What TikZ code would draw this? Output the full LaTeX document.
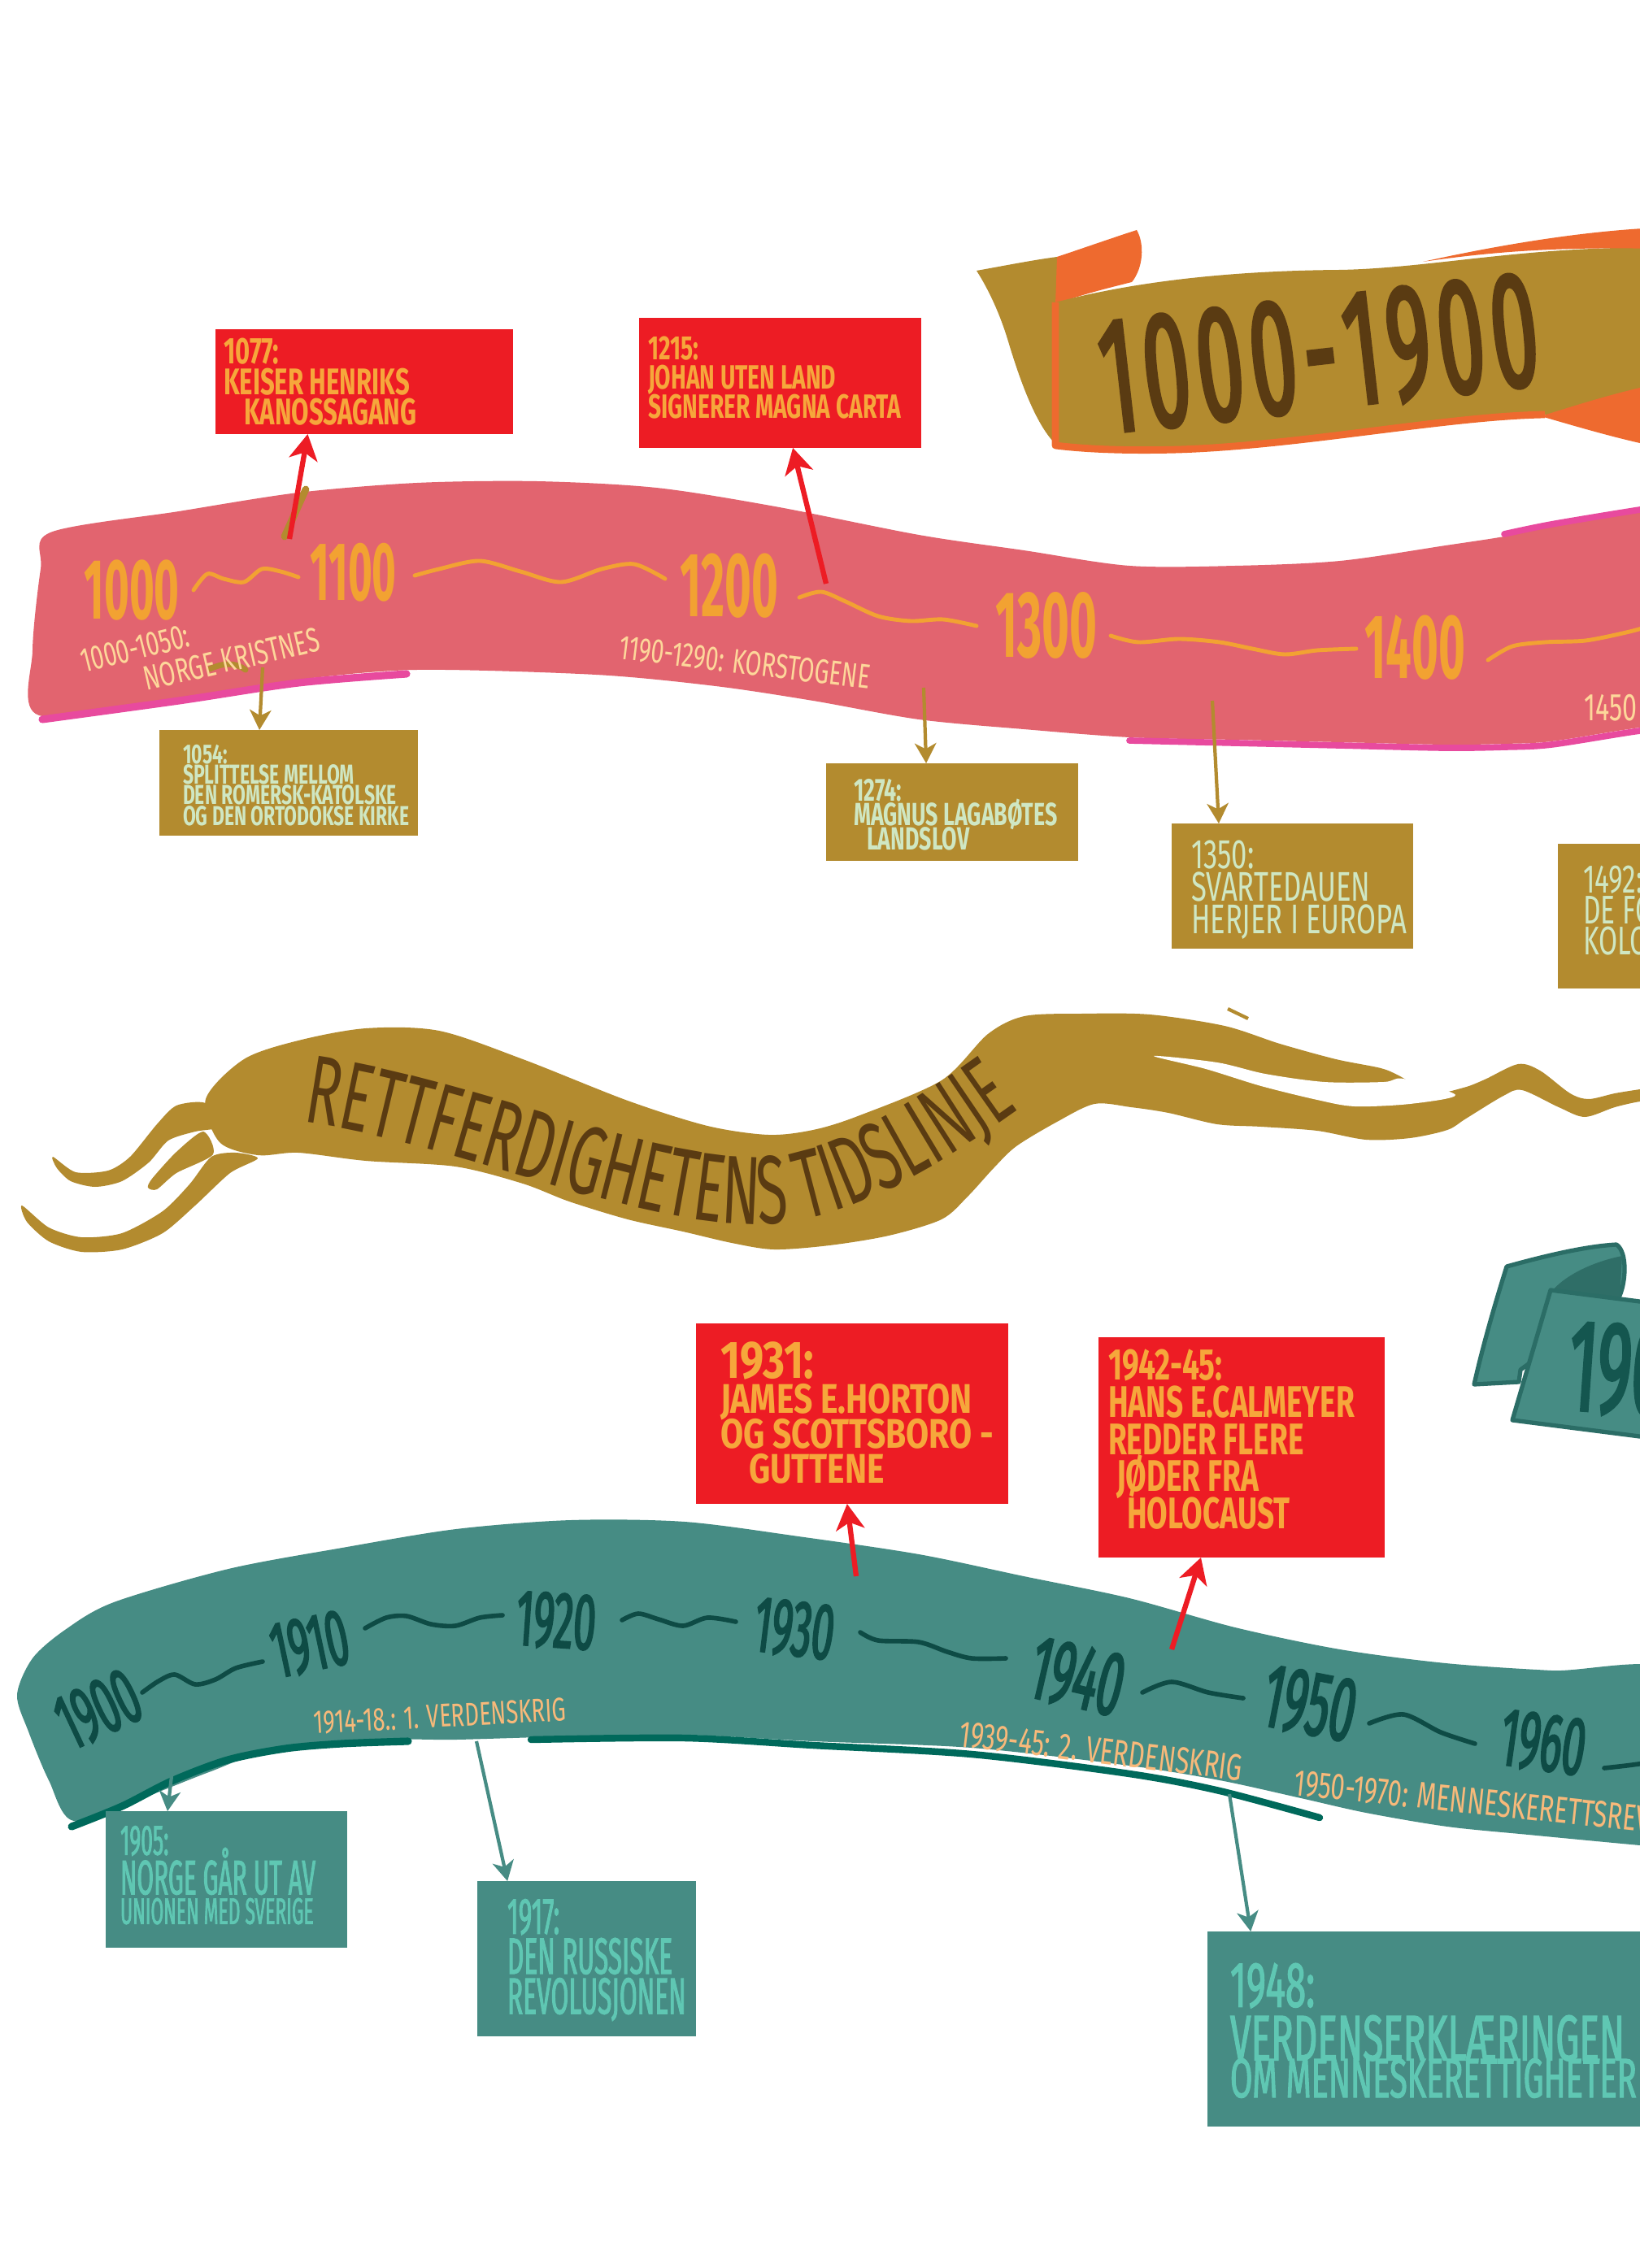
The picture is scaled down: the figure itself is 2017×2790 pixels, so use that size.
\documentclass[tikz,border=0pt]{standalone}
\usepackage{fontspec}
\setmainfont{Fira Sans}
\newfontfamily\hA[FakeStretch=0.68]{Fira Sans}
\newfontfamily\hB[FakeStretch=0.80]{Fira Sans}
\newfontfamily\hC[FakeStretch=0.50]{Fira Sans}
\newfontfamily\hD[FakeStretch=0.58]{Fira Sans}
\newfontfamily\hE[FakeStretch=0.50,FakeBold=2]{Fira Sans}
\newfontfamily\hG[FakeStretch=0.50,FakeBold=1.5]{Fira Sans}
\newfontfamily\hH[FakeStretch=0.58,FakeBold=1.5]{Fira Sans}
\usetikzlibrary{arrows.meta,calc,decorations.text}
\newcommand\myfs[2]{\fontsize{#1}{#2}\selectfont\lineskiplimit=-50pt\relax}
\definecolor{pinkband}{HTML}{E2646F}
\definecolor{bandmag}{HTML}{E84A9E}
\definecolor{yearorange}{HTML}{F2A232}
\definecolor{peach}{HTML}{FDD79A}
\definecolor{peachb}{HTML}{F8B97A}
\definecolor{gold}{HTML}{B38B2F}
\definecolor{mint}{HTML}{CFE7C3}
\definecolor{boxred}{HTML}{ED1C24}
\definecolor{redtext}{HTML}{F6A73B}
\definecolor{browntext}{HTML}{5A3B12}
\definecolor{ribbonorange}{HTML}{EE6A2F}
\definecolor{tealband}{HTML}{468C84}
\definecolor{tealstrip}{HTML}{00695B}
\definecolor{tealyear}{HTML}{0E4B45}
\definecolor{tealtext}{HTML}{5FC7B3}
\definecolor{tealedge}{HTML}{2B6D66}
\definecolor{tealfold}{HTML}{2F6E67}
\definecolor{tealtitle}{HTML}{14564F}
\begin{document}
\begin{tikzpicture}[x=0.1mm,y=-0.1mm,
  box/.style={inner sep=0pt, outer sep=0pt, anchor=north west, draw=none},
  txt/.style={inner sep=0pt, outer sep=0pt, anchor=north west, align=left},
  pyear/.style={inner sep=0pt, anchor=south west, text=yearorange},
  tyear/.style={inner sep=0pt, anchor=center, text=tealyear, font=\hE\myfs{28}{28}},
  pwave/.style={draw=yearorange, line width=1.4pt, line cap=round, line join=round},
  twave/.style={draw=tealyear, line width=1.6pt, line cap=round, line join=round},
  redarrow/.style={draw=boxred, line width=1.8pt, -{Stealth[length=9pt,width=10pt,inset=2.5pt]}},
  goldarrow/.style={draw=gold, line width=1.2pt, -{Stealth[length=7pt,width=7.5pt,inset=2pt]}},
  tealarrow/.style={draw=tealband, line width=1.2pt, -{Stealth[length=7pt,width=7.5pt,inset=2pt]}},
  sublab/.style={inner sep=0pt, anchor=base west}
]
\useasboundingbox (0,0) rectangle (2017,2790);
\clip (0,0) rectangle (2017,2790);
\fill[white] (0,0) rectangle (2017,2790);

% ---------- ribbon 1000-1900 ----------
\fill[gold] (1201,333) .. controls (1240,326) and (1270,320) .. (1300,316) -- (1300,548)
  .. controls (1275,525) and (1255,470) .. (1240,420) .. controls (1228,380) and (1212,350) .. cycle;
\fill[ribbonorange] (1298,375) -- (1300,316) .. controls (1330,306) and (1370,292) .. (1398,283)
  .. controls (1408,300) and (1406,330) .. (1392,347) .. controls (1360,355) and (1320,365) .. (1298,375) -- cycle;
\fill[gold] (1298,372) .. controls (1400,345) and (1520,333) .. (1648,332) .. controls (1760,330) and (1880,302) .. (2040,305)
  -- (2040,520) .. controls (1980,512) and (1930,508) .. (1900,510) .. controls (1780,512) and (1600,548) .. (1450,553)
  .. controls (1380,555) and (1330,552) .. (1298,548) -- cycle;
\draw[ribbonorange, line width=2.5pt, line join=round] (1298,372) -- (1298,548) .. controls (1330,552) and (1380,555) .. (1450,553)
  .. controls (1600,548) and (1780,512) .. (1900,510);
\fill[ribbonorange] (1895,512) .. controls (1940,498) and (1990,482) .. (2040,472) -- (2040,550) .. controls (1990,540) and (1940,525) .. (1895,512) -- cycle;
\fill[ribbonorange] (1750,322) .. controls (1850,300) and (1950,284) .. (2040,280) -- (2040,306) .. controls (1900,303) and (1820,312) .. (1750,322) -- cycle;
\node[inner sep=0pt, rotate=6.5, text=browntext, font=\hE\myfs{58}{58}] (title1) at (1622,436) {1\kern2.6pt 0\kern2.6pt 0\kern2.6pt 0\kern2.6pt -\kern2.6pt 1\kern2.6pt 9\kern2.6pt 0\kern2.6pt 0};

% ---------- pink band ----------
\fill[pinkband] plot[smooth cycle, tension=0.5] coordinates {(50,700) (62,655) (220,629) (367,606) (513,594) (660,592) (807,600) (953,623) (1130,658) (1259,677) (1389,696) (1519,696) (1648,690) (1778,671) (1850,660) (1908,648) (2017,630) (2070,622) (2070,893) (2017,895) (1908,912) (1850,915) (1778,916) (1648,913) (1519,910) (1389,907) (1259,897) (1130,885) (1000,862) (880,844) (733,830) (513,824) (367,836) (220,858) (48,880) (40,800)};
\draw[bandmag, line width=2.6pt, line cap=round] plot[smooth, tension=0.5] coordinates {(52,885) (220,862) (367,840) (500,829)};
\draw[bandmag, line width=2.2pt, line cap=round] plot[smooth, tension=0.5] coordinates {(1389,911) (1519,914) (1648,917) (1778,920) (1850,919) (1908,916) (2017,899) (2060,897)};
\draw[bandmag, line width=2.2pt, line cap=round] plot[smooth, tension=0.5] coordinates {(1850,657) (1908,645) (2017,627) (2060,622)};

% ---------- boxes top ----------
\node[box, fill=boxred, minimum width=36.6mm, minimum height=12.9mm] (b1077) at (265,405) {};
\node[box, fill=boxred, minimum width=34.7mm, minimum height=16.0mm] (b1215) at (786,391) {};
\node[box, fill=gold, minimum width=31.8mm, minimum height=13.0mm] (b1054) at (196,898) {};
\node[box, fill=gold, minimum width=31.0mm, minimum height=12.0mm] (b1274) at (1016,939) {};
\node[box, fill=gold, minimum width=29.7mm, minimum height=15.4mm] (b1350) at (1441,1013) {};
\node[box, fill=gold, minimum width=14.0mm, minimum height=17.8mm] (b1492) at (1916,1038) {};

\draw[gold, line width=2.5pt, line cap=round] (350,660) -- (376,602);
\draw[gold, line width=2pt, line cap=round] (258,823) .. controls (275,815) and (290,815) .. (302,824);

\coordinate (s1077) at (356,663);
\coordinate (s1215) at (1016,718);
\coordinate (s1054) at (323,821);
\coordinate (s1274) at (1136,846);
\coordinate (s1350) at (1491,862);
\draw[redarrow] (s1077) -- ($(b1077.south west)!0.31!(b1077.south east)$);
\draw[redarrow] (s1215) -- ($(b1215.south west)!0.545!(b1215.south east)$);
\draw[goldarrow] (s1054) -- ($(b1054.north west)!0.387!(b1054.north east)$);
\draw[goldarrow] (s1274) -- ($(b1274.north west)!0.397!(b1274.north east)$);
\draw[goldarrow] (s1350) -- ($(b1350.north west)!0.195!(b1350.north east)$);

\node[txt, text=redtext, font=\hA\bfseries\myfs{13}{10.7}] (t1077) at (275,416) {1077:\\KEISER HENRIKS\\\hspace*{2.5mm}KANOSSAGANG};
\node[txt, text=redtext, font=\hA\bfseries\myfs{11.8}{10.2}] (t1215) at (797,414) {1215:\\JOHAN UTEN LAND\\SIGNERER MAGNA CARTA};
\node[txt, text=mint, font=\hA\bfseries\myfs{9.6}{7.2}] (t1054) at (225,916) {1054:\\SPLITTELSE MELLOM\\DEN ROMERSK-KATOLSKE\\OG DEN ORTODOKSE KIRKE};
\node[txt, text=mint, font=\hA\bfseries\myfs{11.2}{8.5}] (t1274) at (1050,958) {1274:\\MAGNUS LAGABØTES\\\hspace*{1.6mm}LANDSLOV};
\node[txt, text=mint, font=\hA\myfs{14.5}{11.4}] (t1350) at (1465,1034) {1350:\\SVARTEDAUEN\\HERJER I EUROPA};
\node[txt, text=mint, font=\hA\myfs{14}{10.8}] (t1492) at (1947,1065) {1492:\\DE FØRSTE\\KOLONIENE};

% ---------- pink band years ----------
\draw[pwave] plot[smooth] coordinates {(238,726) (255,706) (275,712) (300,716) (322,700) (345,703) (367,710)};
\draw[pwave] plot[smooth] coordinates {(510,708) (540,700) (590,690) (640,703) (690,716) (740,700) (780,694) (818,712)};
\draw[pwave] plot[smooth] coordinates {(983,735) (1010,728) (1040,740) (1080,758) (1120,764) (1160,762) (1201,770)};
\draw[pwave] plot[smooth] coordinates {(1366,782) (1400,790) (1450,786) (1500,790) (1540,798) (1580,805) (1620,800) (1668,798)};
\draw[pwave] plot[smooth] coordinates {(1830,812) (1860,795) (1900,790) (1950,788) (2000,778) (2030,770)};
\node[pyear, font=\hC\bfseries\myfs{30}{30}] (y1000) at (103,764) {1000};
\node[pyear, font=\hC\bfseries\myfs{29}{29}] (y1100) at (381,741) {1100};
\node[pyear, font=\hC\bfseries\myfs{32}{32}] (y1200) at (836,761) {1200};
\node[pyear, font=\hC\bfseries\myfs{33}{33}] (y1300) at (1224,811) {1300};
\node[pyear, font=\hC\bfseries\myfs{32}{32}] (y1400) at (1678,837) {1400};

\node[sublab, rotate=14, text=peach, font=\hA\myfs{12}{12}] (l1000a) at (103,828) {1000-1050:};
\node[sublab, rotate=13, text=peach, font=\hA\myfs{12}{12}] (l1000b) at (180,850) {NORGE KRISTNES};
\node[sublab, rotate=-7, text=peach, font=\hA\myfs{12}{12}] (l1190) at (760,810) {1190-1290: KORSTOGENE};
\node[sublab, text=peach, font=\hA\myfs{13.5}{12}] (l1450) at (1948,886) {1450};

% ---------- banner ----------
\fill[gold] plot[smooth cycle, tension=0.5] coordinates {(253,1352) (300,1303) (367,1280) (450,1265) (540,1268) (643,1303) (772,1354) (870,1385) (945,1396) (1000,1390) (1055,1373) (1158,1329) (1215,1272) (1260,1250) (1330,1247) (1414,1248) (1506,1262) (1574,1284) (1643,1303) (1698,1314) (1722,1324) (1760,1345) (1800,1338) (1826,1328) (1867,1309) (1894,1317) (1931,1345) (1954,1352) (1986,1345) (2017,1340) (2045,1336) (2045,1353) (2017,1355) (1986,1362) (1949,1374) (1917,1362) (1872,1341) (1849,1348) (1803,1376) (1780,1390) (1734,1400) (1680,1402) (1620,1391) (1551,1386) (1497,1383) (1437,1369) (1391,1362) (1346,1358) (1300,1380) (1250,1410) (1222,1437) (1190,1472) (1158,1500) (1093,1520) (1020,1532) (952,1537) (900,1529) (840,1515) (772,1500) (700,1478) (643,1456) (560,1435) (450,1428) (367,1418) (317,1421) (270,1405)};
\fill[white] plot[smooth cycle, tension=0.5] coordinates {(1419,1299) (1497,1307) (1556,1321) (1629,1331) (1702,1331) (1726,1327) (1790,1347) (1734,1358) (1666,1361) (1620,1353) (1551,1336) (1483,1315)};
\fill[gold] plot[smooth cycle, tension=0.45] coordinates {(253,1357) (217,1360) (193,1383) (160,1423) (133,1440) (93,1442) (65,1423) (70,1437) (87,1453) (117,1460) (150,1453) (183,1430) (207,1403) (240,1392) (275,1385)};
\fill[gold] plot[smooth cycle, tension=0.45] coordinates {(250,1392) (217,1417) (187,1450) (182,1461) (193,1463) (217,1443) (262,1420)};
\fill[gold] plot[smooth cycle, tension=0.45] coordinates {(290,1418) (260,1423) (233,1457) (200,1490) (150,1517) (100,1522) (60,1510) (27,1483) (33,1503) (60,1527) (100,1540) (150,1537) (200,1517) (240,1483) (283,1443) (317,1425)};
\draw[gold, line width=1.2pt] (1510,1241) -- (1535,1253);
\path[decorate, decoration={text along path, text color=browntext,
  text={|\hD\myfs{34}{34}|RETTFERDIGHETENS TIDSLINJE}}]
  (372,1380) .. controls (560,1405) and (790,1515) .. (950,1505) .. controls (1060,1498) and (1180,1420) .. (1300,1330);

% ---------- teal ribbon ----------
\filldraw[fill=tealband, draw=tealedge, line width=1.5pt, line join=round] (1853,1558) .. controls (1900,1545) and (1950,1533) .. (1988,1531) .. controls (2002,1540) and (2000,1580) .. (1990,1598) -- (1870,1685) -- (1868,1700) -- (1813,1703) .. controls (1825,1650) and (1840,1600) .. (1853,1558) -- cycle;
\fill[tealfold] (1907,1590) .. controls (1925,1568) and (1960,1552) .. (1995,1545) -- (1992,1600) -- cycle;
\filldraw[fill=tealband, draw=tealedge, line width=1.5pt, line join=round] (1907,1587) -- (2040,1604) -- (2040,1770) -- (1860,1747) -- cycle;
\node[inner sep=0pt, anchor=south west, rotate=-4, text=tealtitle, font=\hE\myfs{46}{46}] (title2) at (1925,1738) {1900-2000};

% ---------- red boxes bottom ----------
\node[box, fill=boxred, minimum width=38.4mm, minimum height=22.2mm] (b1931) at (856,1628) {};
\node[box, fill=boxred, minimum width=35.2mm, minimum height=27.1mm] (b1942) at (1351,1645) {};
\node[txt, text=redtext, font=\hB\bfseries\myfs{14.5}{12.2}] (t1931) at (886,1651) {{\myfs{18.5}{12.2}1931:}\\JAMES E.HORTON\\OG SCOTTSBORO -\\\hspace*{3.5mm}GUTTENE};
\node[txt, text=redtext, font=\hA\bfseries\myfs{15.5}{13}] (t1942) at (1363,1660) {1942-45:\\HANS E.CALMEYER\\REDDER FLERE\\\hspace*{1mm}JØDER FRA\\\hspace*{2.3mm}HOLOCAUST};

% ---------- teal band ----------
\fill[tealband] plot[smooth cycle, tension=0.5] coordinates {(21,2085) (40,2040) (80,2005) (140,1971) (281,1930) (421,1904) (561,1881) (702,1870) (842,1872) (982,1890) (1130,1912) (1259,1939) (1389,1966) (1519,2002) (1648,2029) (1778,2046) (1908,2055) (2070,2062) (2070,2274) (2017,2270) (1880,2257) (1780,2247) (1680,2230) (1600,2212) (1500,2190) (1389,2172) (1195,2150) (1000,2142) (842,2134) (700,2136) (561,2140) (491,2140) (351,2147) (257,2180) (180,2210) (91,2240) (60,2190) (35,2130)};
\draw[tealstrip, line width=2.6pt, line cap=round] plot[smooth, tension=0.5] coordinates {(88,2247) (150,2222) (211,2191) (280,2165) (351,2151) (420,2145) (502,2142)};
\draw[tealstrip, line width=2.4pt, line cap=round] plot[smooth, tension=0.5] coordinates {(653,2140) (842,2138) (1000,2147) (1195,2158) (1389,2182) (1500,2203) (1623,2236)};

\node[box, fill=tealband, minimum width=29.7mm, minimum height=16.8mm] (b1905) at (130,2228) {};
\node[box, fill=tealband, minimum width=26.9mm, minimum height=19.1mm] (b1917) at (587,2314) {};
\node[box, fill=tealband, minimum width=56.0mm, minimum height=24.0mm] (b1948) at (1485,2376) {};

\coordinate (s1931) at (1053,1939);
\coordinate (s1942) at (1441,2029);
\coordinate (s1905) at (211,2185);
\coordinate (s1917) at (586,2142);
\coordinate (s1948) at (1512,2207);
\draw[redarrow] (s1931) -- ($(b1931.south west)!0.484!(b1931.south east)$);
\draw[redarrow] (s1942) -- ($(b1942.south west)!0.358!(b1942.south east)$);
\draw[tealarrow] (s1905) -- ($(b1905.north west)!0.256!(b1905.north east)$);
\draw[tealarrow] (s1917) -- ($(b1917.north west)!0.138!(b1917.north east)$);
\draw[tealarrow] (s1948) -- ($(b1948.north west)!0.095!(b1948.north east)$);

\node[txt, text=tealtext, font=\hG\myfs{15}{13.8}] (t1905) at (148,2246) {1905:\\{\myfs{17}{13.8}NORGE GÅR UT AV}\\[-1.2mm]{\myfs{13}{13}UNIONEN MED SVERIGE}};
\node[txt, text=tealtext, font=\hG\myfs{18}{14}] (t1917) at (624,2336) {1917:\\DEN RUSSISKE\\REVOLUSJONEN};
\node[txt, text=tealtext, font=\hH\myfs{22.5}{13}] (t1948) at (1513,2415) {1948:\\[2mm]VERDENSERKLÆRINGEN\\{\myfs{19.5}{13}OM MENNESKERETTIGHETER}};

% ---------- teal years ----------
\draw[twave] plot[smooth] coordinates {(175,2082) (195,2068) (215,2060) (240,2072) (265,2066) (290,2052) (323,2044)};
\draw[twave] plot[smooth] coordinates {(449,2003) (475,1990) (500,1988) (530,1998) (560,2000) (590,1990) (618,1987)};
\draw[twave] plot[smooth] coordinates {(765,1993) (785,1985) (810,1992) (840,2000) (870,1990) (905,1995)};
\draw[twave] plot[smooth] coordinates {(1058,2008) (1080,2018) (1130,2020) (1165,2032) (1195,2040) (1237,2040)};
\draw[twave] plot[smooth] coordinates {(1405,2082) (1441,2069) (1486,2082) (1529,2089)};
\draw[twave] plot[smooth] coordinates {(1684,2120) (1726,2109) (1772,2131) (1814,2145)};
\draw[twave] plot[smooth] coordinates {(1973,2175) (2000,2172) (2030,2168)};
\node[tyear, rotate=25] (y1900) at (121,2103) {1900};
\node[tyear, rotate=12] (y1910) at (381,2023) {1910};
\node[tyear, rotate=-4] (y1920) at (684,1994) {1920};
\node[tyear, rotate=-7] (y1930) at (977,2004) {1930};
\node[tyear, rotate=-13, font=\hE\myfs{32}{32}] (y1940) at (1325,2063) {1940};
\node[tyear, rotate=-11, font=\hE\myfs{32}{32}] (y1950) at (1611,2096) {1950};
\node[tyear, rotate=-8, font=\hE\myfs{29}{29}] (y1960) at (1898,2144) {1960};

\node[sublab, rotate=3, text=peachb, font=\hA\myfs{11.5}{12}] (l1914) at (386,2133) {1914-18.: 1. VERDENSKRIG};
\node[sublab, rotate=-7, text=peachb, font=\hA\myfs{13}{12}] (l1939) at (1178,2148) {1939-45: 2. VERDENSKRIG};
\node[sublab, rotate=-6, text=peachb, font=\hA\myfs{13}{12}] (l1950) at (1590,2208) {1950-1970: MENNESKERETTSREVOLUSJONEN};
\end{tikzpicture}
\end{document}
